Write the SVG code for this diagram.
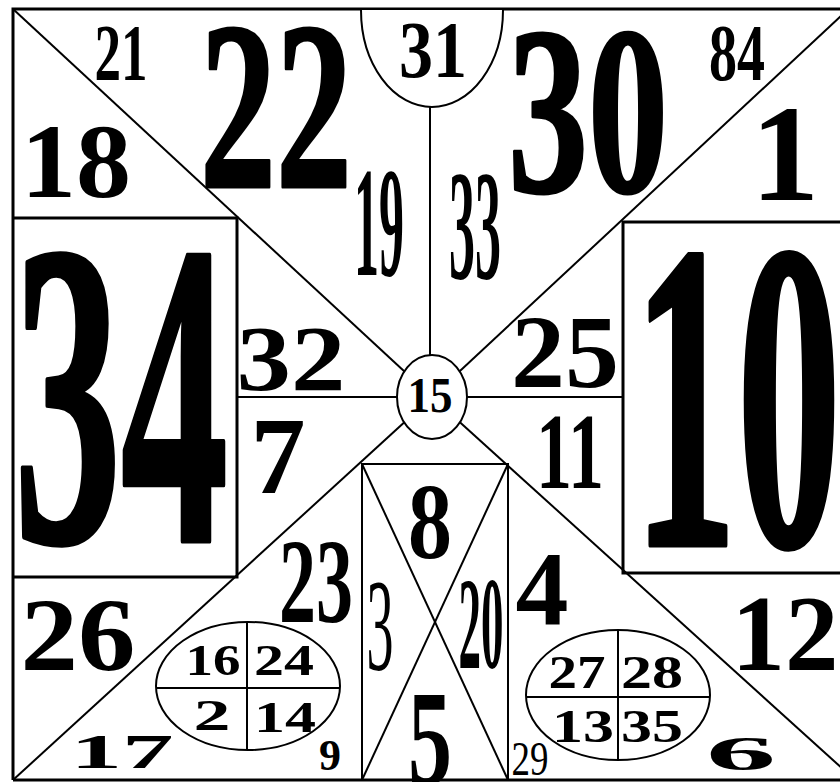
<svg xmlns="http://www.w3.org/2000/svg" width="840" height="782" viewBox="0 0 840 782">
<style>
.ln{stroke:#000;stroke-width:2;fill:none}
.bd{stroke:#000;stroke-width:3;fill:none}
.sh{stroke:#000;stroke-width:2;fill:#fff}
text{font-family:"Liberation Serif","Times New Roman",serif;font-weight:bold;fill:#000;text-anchor:middle}
.rg{font-weight:normal}
.hv{stroke:#000;stroke-width:5;stroke-linejoin:round}
.md{stroke:#000;stroke-width:3;stroke-linejoin:round}
</style>
<rect width="840" height="782" fill="#fff"/>
<g id="grid">
<path class="bd" d="M13,780 V9 H842 M13,780 H842"/>
<line class="ln" x1="13" y1="9" x2="432" y2="397"/>
<line class="ln" x1="432" y1="397" x2="842" y2="15"/>
<line class="ln" x1="13" y1="780" x2="432" y2="397"/>
<line class="ln" x1="432" y1="397" x2="855" y2="780"/>
<line class="ln" x1="237" y1="397" x2="623" y2="397"/>
<line class="ln" x1="430" y1="105" x2="430" y2="397"/>
<path class="bd" d="M13,218 H237 V577 H13"/>
<path class="bd" d="M842,222 H623 V573 H842"/>
<path class="ln" d="M362,780 V464 H508 V780"/>
<line class="ln" x1="362" y1="464" x2="508" y2="780"/>
<line class="ln" x1="508" y1="464" x2="362" y2="780"/>
<path class="sh" d="M361,10 A71,97 0 0 0 503,10"/>
<ellipse class="sh" cx="432" cy="397" rx="35" ry="42"/>
<ellipse class="sh" cx="248" cy="686" rx="92" ry="64"/>
<line class="ln" x1="247" y1="622" x2="247" y2="750"/>
<line class="ln" x1="156" y1="688" x2="340" y2="688"/>
<ellipse class="sh" cx="618" cy="695" rx="92" ry="65"/>
<line class="ln" x1="618" y1="630" x2="618" y2="760"/>
<line class="ln" x1="526" y1="697" x2="710" y2="697"/>
</g>
<g id="labels">
<text id="n21" x="121" y="80" font-size="81" textLength="53" lengthAdjust="spacingAndGlyphs">21</text>
<text id="n18" x="76" y="197" font-size="106" textLength="110" lengthAdjust="spacingAndGlyphs">18</text>
<text id="n22" class="md" x="276" y="187" font-size="239" textLength="152" lengthAdjust="spacingAndGlyphs">22</text>
<text id="n19" x="379" y="275" font-size="157" textLength="50" lengthAdjust="spacingAndGlyphs">19</text>
<text id="n31" x="433" y="77" font-size="81" textLength="68" lengthAdjust="spacingAndGlyphs">31</text>
<text id="n30" class="md" x="588" y="192" font-size="239" textLength="160" lengthAdjust="spacingAndGlyphs">30</text>
<text id="n84" x="737" y="80" font-size="81" textLength="56" lengthAdjust="spacingAndGlyphs">84</text>
<text id="n1" x="785" y="200" font-size="137">1</text>
<text id="n33" x="475" y="278" font-size="156" textLength="52" lengthAdjust="spacingAndGlyphs">33</text>
<text id="n34" class="hv" x="121" y="541" font-size="434" textLength="214" lengthAdjust="spacingAndGlyphs">34</text>
<text id="n32" x="291" y="390" font-size="93" textLength="109" lengthAdjust="spacingAndGlyphs">32</text>
<text id="n7" x="278" y="493" font-size="110">7</text>
<text id="n25" x="565" y="387" font-size="103" textLength="108" lengthAdjust="spacingAndGlyphs">25</text>
<text id="n11" x="570" y="488" font-size="107" textLength="68" lengthAdjust="spacingAndGlyphs">11</text>
<text id="n10" class="hv" x="737" y="545" font-size="440" textLength="208" lengthAdjust="spacingAndGlyphs">10</text>
<text id="n15" x="430" y="412" font-size="51" textLength="45" lengthAdjust="spacingAndGlyphs">15</text>
<text id="n8" x="430" y="558" font-size="107" textLength="44" lengthAdjust="spacingAndGlyphs">8</text>
<text id="n3" class="rg" x="380" y="670" font-size="132" textLength="27" lengthAdjust="spacingAndGlyphs">3</text>
<text id="n20" x="481" y="668" font-size="132" textLength="45" lengthAdjust="spacingAndGlyphs">20</text>
<text id="n5" x="430" y="784" font-size="135" textLength="44" lengthAdjust="spacingAndGlyphs">5</text>
<text id="n23" x="316" y="622" font-size="120" textLength="74" lengthAdjust="spacingAndGlyphs">23</text>
<text id="n26" x="78" y="670" font-size="103" textLength="115" lengthAdjust="spacingAndGlyphs">26</text>
<text id="n17" x="122" y="768" font-size="49" textLength="103" lengthAdjust="spacingAndGlyphs">17</text>
<text id="n9" x="330" y="770" font-size="44">9</text>
<text id="n16" x="213" y="675" font-size="44" textLength="55" lengthAdjust="spacingAndGlyphs">16</text>
<text id="n24" x="284" y="675" font-size="44" textLength="60" lengthAdjust="spacingAndGlyphs">24</text>
<text id="n2" x="212" y="730" font-size="44" textLength="37" lengthAdjust="spacingAndGlyphs">2</text>
<text id="n14" x="285" y="732" font-size="44" textLength="62" lengthAdjust="spacingAndGlyphs">14</text>
<text id="n4" x="542" y="625" font-size="106">4</text>
<text id="n12" x="785" y="670" font-size="107" textLength="107" lengthAdjust="spacingAndGlyphs">12</text>
<text id="n27" x="577" y="688" font-size="46" textLength="57" lengthAdjust="spacingAndGlyphs">27</text>
<text id="n28" x="652" y="688" font-size="46" textLength="62" lengthAdjust="spacingAndGlyphs">28</text>
<text id="n13" x="583" y="742" font-size="46" textLength="62" lengthAdjust="spacingAndGlyphs">13</text>
<text id="n35" x="652" y="742" font-size="46" textLength="62" lengthAdjust="spacingAndGlyphs">35</text>
<text id="n29" class="rg" x="530" y="775" font-size="49" textLength="37" lengthAdjust="spacingAndGlyphs">29</text>
<text id="n6" x="741" y="770" font-size="49" textLength="70" lengthAdjust="spacingAndGlyphs">6</text>
</g>
</svg>
